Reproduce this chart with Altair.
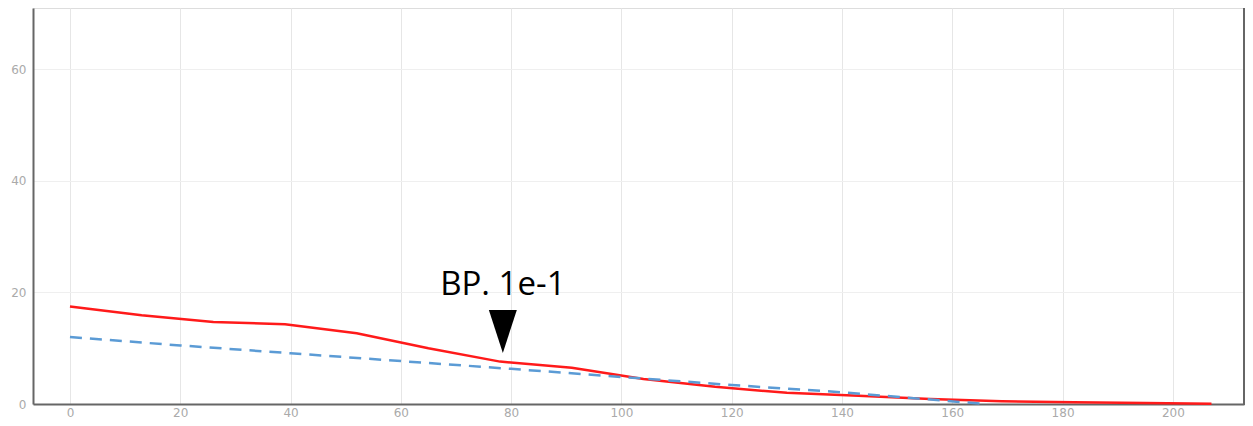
import altair as alt
import pandas as pd

# Red solid series
red_x = [0, 13, 26, 39, 52, 65, 78, 91, 104, 117, 130, 143, 156, 169, 182, 195, 207]
red_y = [17.5, 15.9, 14.7, 14.3, 12.7, 10.0, 7.6, 6.5, 4.5, 3.1, 2.0, 1.5, 0.9, 0.5, 0.3, 0.2, 0.05]

# Blue dashed series
blue_x = [0, 20, 40, 80, 120, 140, 166]
blue_y = [12.0, 10.5, 9.1, 6.3, 3.4, 2.1, 0.0]

# Annotation
ann_x = [78.5]
ann_label = ["BP. 1e-1"]
ann_text_y = [19.5]
ann_marker_y = [13.0]

x_ticks = [0, 20, 40, 60, 80, 100, 120, 140, 160, 180, 200]
y_ticks = [0, 20, 40, 60]

red_df = pd.DataFrame({"x": red_x, "y": red_y})
blue_df = pd.DataFrame({"x": blue_x, "y": blue_y})
ann_df = pd.DataFrame({"x": ann_x, "label": ann_label, "ty": ann_text_y, "my": ann_marker_y})

W = 1211
H = 396
xscale = alt.Scale(domain=[-6.7, 212.9], nice=False, zero=False)
yscale = alt.Scale(domain=[0, 71.0], nice=False)

xaxis = alt.Axis(values=x_ticks, title=None, ticks=False, domainColor="#666666", domainWidth=2,
                 gridColor="#e6e6e6", gridWidth=1, labelColor="#aaaaaa", labelFont="DejaVu Sans",
                 labelFontSize=12, labelPadding=3)
yaxis = alt.Axis(values=y_ticks, title=None, ticks=False, domainColor="#666666", domainWidth=2,
                 gridColor="#efefef", gridWidth=1, labelColor="#aaaaaa", labelFont="DejaVu Sans",
                 labelFontSize=12, labelPadding=7)

red = alt.Chart(red_df).mark_line(color="#ff1a1a", strokeWidth=2.5).encode(
    x=alt.X("x:Q", scale=xscale, axis=xaxis),
    y=alt.Y("y:Q", scale=yscale, axis=yaxis),
)

blue = alt.Chart(blue_df).mark_line(color="#5b9bd5", strokeWidth=2.5, strokeDash=[12, 8]).encode(
    x=alt.X("x:Q", scale=xscale),
    y=alt.Y("y:Q", scale=yscale),
)

text = alt.Chart(ann_df).mark_text(font="Open Sans", fontSize=33, color="black", baseline="alphabetic",
                                   align="center").encode(
    x=alt.X("x:Q", scale=xscale),
    y=alt.Y("ty:Q", scale=yscale),
    text="label:N",
)

marker = alt.Chart(ann_df).mark_point(shape="M-0.65,-1L0.65,-1L0,1Z", size=1849, filled=True,
                                      color="black", opacity=1).encode(
    x=alt.X("x:Q", scale=xscale),
    y=alt.Y("my:Q", scale=yscale),
)

# right frame line of the plot area
border = alt.Chart(ann_df).mark_rule(color="#666666", strokeWidth=2).encode(
    x=alt.value(W), y=alt.value(0), y2=alt.value(H + 1)
)

chart = alt.layer(red, blue, text, marker, border).properties(
    width=W, height=H,
    autosize=alt.AutoSizeParams(type="none"),
    padding={"left": 25, "top": 0, "right": 1, "bottom": 14},
).configure_view(stroke=None).configure(background="white")

chart.save("out.html", embed_options={"renderer": "svg", "actions": False})
